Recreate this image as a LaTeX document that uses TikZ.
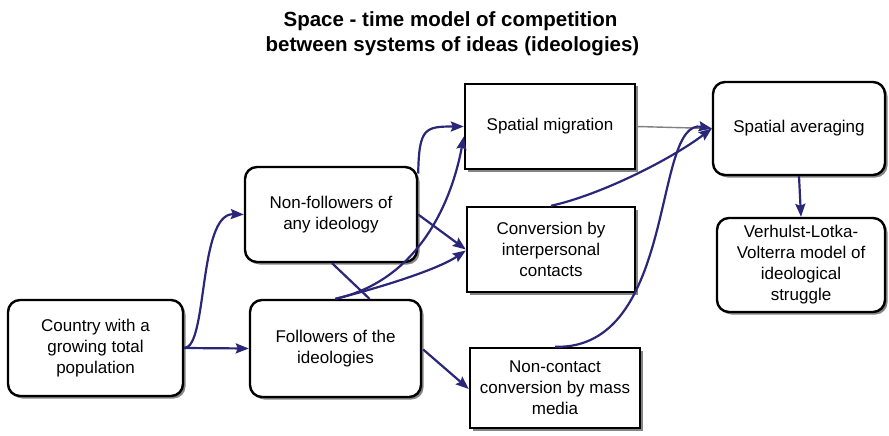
\documentclass[tikz,border=0pt]{standalone}
\usepackage{fontspec}
\setmainfont{Liberation Sans}
\usetikzlibrary{arrows.meta,shadows,calc}
\definecolor{navy}{RGB}{42,38,120}
\begin{document}
\begin{tikzpicture}[x=1pt,y=-1pt,
  boxbase/.style={draw=black,line width=2.4pt,fill=white,align=center,
    font=\fontsize{17}{21}\selectfont,inner sep=2pt,
    drop shadow={shadow xshift=2.5pt,shadow yshift=-2.5pt,fill=black!60,opacity=0.8}},
  rbox/.style={boxbase,rounded corners=12pt},
  sbox/.style={boxbase},
  arr/.style={draw=navy,line width=2.2pt,-{Stealth[length=13pt,width=10pt,inset=2pt]}},
  plainline/.style={draw=navy,line width=2.2pt},
  grayline/.style={draw=black!50,line width=1.4pt},
  titlefont/.style={font=\bfseries\fontsize{20.5}{25}\selectfont,anchor=base,inner sep=0pt}
]
\useasboundingbox (0,0) rectangle (889,436);
\node[titlefont] (t1) at (450.5,27) {Space - time model of competition};
\node[titlefont] (t2) at (452.5,52) {between systems of ideas (ideologies)};

\node[rbox,minimum width=175pt,minimum height=96pt] (country) at (95.5,348) {Country with a\\growing total\\population};
\node[rbox,minimum width=172pt,minimum height=95pt] (nonf) at (331,214.5) {Non-followers of\\any ideology};
\node[rbox,minimum width=171pt,minimum height=97pt] (foll) at (335.5,348.5) {Followers of the\\ideologies};
\node[sbox,minimum width=170pt,minimum height=85pt] (migr) at (550,126.5) {Spatial migration};
\node[sbox,minimum width=168pt,minimum height=85pt] (conv) at (551,249.5) {Conversion by\\interpersonal\\contacts};
\node[sbox,minimum width=170pt,minimum height=80pt] (nonc) at (555,388) {Non-contact\\conversion by mass\\media};
\node[rbox,minimum width=172pt,minimum height=93pt] (avg) at (799,128.5) {Spatial averaging};
\node[rbox,minimum width=168pt,minimum height=94pt] (verh) at (801,265) {Verhulst-Lotka-\\Volterra model of\\ideological\\struggle};

% connectors
\draw[arr] (country.east) .. controls (208,348) and (198,213) .. (nonf.west);
\draw[arr] (country.east) -- (foll.west);
\draw[arr] ($(nonf.east)+(0,-41)$) .. controls (419,128) and (425,126.5) .. (migr.west);
\draw[arr] (foll.north) .. controls (420,280) and (452,200) .. ($(migr.west)+(0,10)$);
\draw[arr] (foll.north) .. controls (390,285) and (440,268) .. ($(conv.west)+(0,1)$);
\draw[arr] (nonf.east) -- (conv.west);
\draw[plainline] ($(nonf.south)+(1,0)$) -- ($(foll.north)+(34,0)$);
\draw[arr] ($(foll.east)+(1,1)$) -- ($(nonc.west)+(0,1)$);
\draw[grayline] (migr.east) -- (avg.west);
\draw[arr] (conv.north) .. controls (600,195) and (670,160) .. (avg.west);
\draw[arr] (nonc.north) .. controls (678,350) and (652,118) .. (avg.west);
\draw[arr] (avg.south) -- (verh.north);
\end{tikzpicture}
\end{document}
